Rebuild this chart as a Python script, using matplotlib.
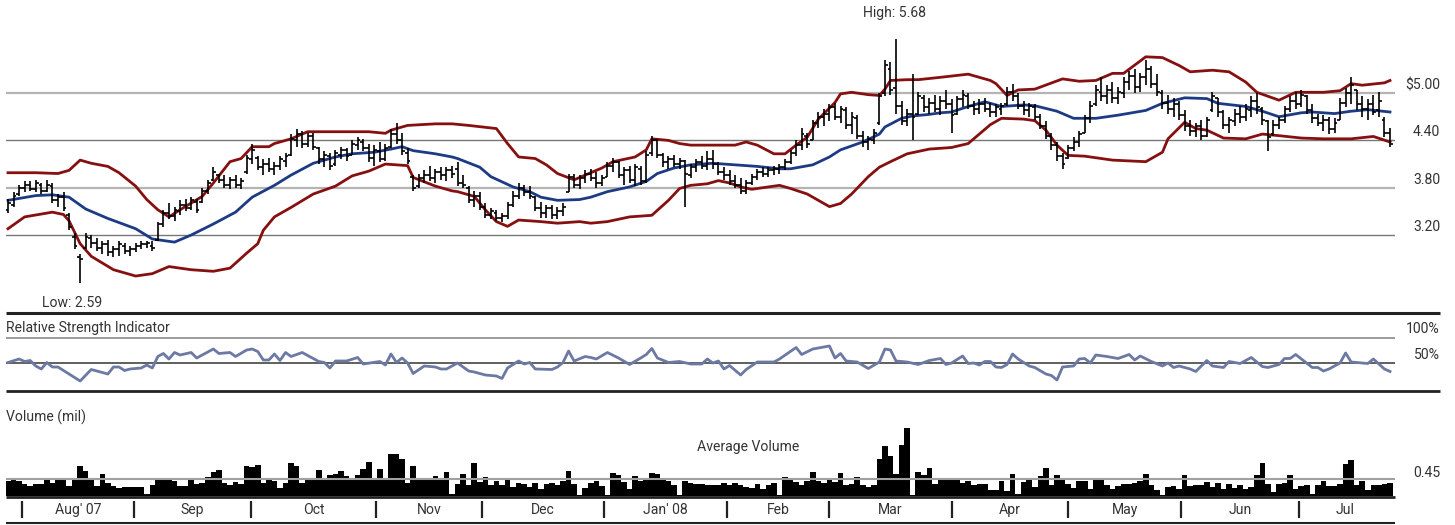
import matplotlib
matplotlib.use("Agg")
import matplotlib.pyplot as plt
from matplotlib.lines import Line2D
from matplotlib import font_manager
import numpy as np

names = {f.name for f in font_manager.fontManager.ttflist}
if 'Liberation Sans Narrow' in names:
    plt.rcParams['font.family'] = ['Liberation Sans Narrow', 'DejaVu Sans']
    TARGET_W = 157.0
else:
    plt.rcParams['font.family'] = ['Roboto', 'Liberation Sans', 'DejaVu Sans']
    TARGET_W = 164.0

# ---------------- data (trading-day index 0 .. 249) ----------------
highs = [3.66,3.74,3.84,3.88,3.88,3.90,3.86,3.90,3.86,3.72,3.74,3.48,3.22,2.96,3.22,3.20,3.16,3.12,3.14,3.06,
         3.12,3.10,3.06,3.10,3.12,3.12,3.12,3.36,3.52,3.60,3.56,3.64,3.66,3.68,3.66,3.80,3.90,4.06,3.98,3.96,
         3.94,3.96,3.92,4.22,4.36,4.20,4.16,4.18,4.12,4.20,4.24,4.48,4.54,4.52,4.50,4.50,4.32,4.26,4.24,4.28,
         4.32,4.30,4.40,4.44,4.42,4.36,4.34,4.38,4.36,4.54,4.62,4.50,4.30,3.96,3.98,4.02,4.08,4.04,4.06,4.06,
         4.08,4.12,3.96,3.82,3.76,3.74,3.60,3.54,3.52,3.48,3.62,3.76,3.86,3.84,3.82,3.70,3.62,3.58,3.58,3.56,
         3.60,3.98,3.98,3.96,4.02,4.04,4.00,3.96,4.12,4.18,4.14,4.06,4.08,4.10,4.08,4.26,4.45,4.42,4.24,4.20,
         4.22,4.18,4.15,4.10,4.16,4.20,4.26,4.28,4.12,4.06,4.02,3.96,3.92,3.90,3.98,4.04,4.06,4.06,4.08,4.10,
         4.16,4.28,4.40,4.56,4.50,4.66,4.76,4.80,4.86,4.88,4.84,4.82,4.76,4.72,4.52,4.46,4.54,5.00,5.42,5.40,
         5.68,4.90,4.80,5.24,5.02,4.98,4.94,4.98,4.96,5.04,4.92,4.96,5.04,5.00,4.90,4.92,4.94,4.88,4.86,4.88,
         5.08,5.12,5.00,4.90,4.88,4.86,4.74,4.64,4.50,4.38,4.24,4.34,4.44,4.52,4.72,4.90,5.10,5.20,5.10,5.14,
         5.08,5.20,5.28,5.30,5.26,5.42,5.34,5.24,5.04,4.98,4.94,4.90,4.78,4.66,4.62,4.66,4.70,5.02,4.94,4.78,
         4.70,4.80,4.84,4.86,4.96,5.00,4.82,4.66,4.66,4.70,4.84,4.96,5.02,5.04,4.98,4.86,4.74,4.72,4.70,4.68,
         4.94,5.06,5.20,5.04,4.96,4.92,4.98,5.02,4.70,4.56]
lows = [3.48,3.56,3.70,3.74,3.76,3.74,3.72,3.74,3.60,3.56,3.50,3.26,3.02,2.59,3.02,3.04,3.00,2.96,2.94,2.92,
        2.94,2.96,2.94,2.98,3.02,3.04,3.00,3.12,3.30,3.40,3.38,3.46,3.50,3.52,3.48,3.60,3.72,3.88,3.86,3.80,
        3.78,3.80,3.78,3.98,4.10,4.02,3.96,4.00,3.96,4.02,4.06,4.20,4.32,4.30,4.32,4.28,4.10,4.06,4.02,4.08,
        4.16,4.14,4.22,4.28,4.26,4.12,4.08,4.12,4.14,4.30,4.36,4.22,4.10,3.76,3.80,3.86,3.88,3.86,3.90,3.88,
        3.92,3.82,3.80,3.60,3.56,3.52,3.42,3.40,3.38,3.36,3.40,3.56,3.66,3.70,3.66,3.50,3.42,3.42,3.40,3.40,
        3.44,3.74,3.80,3.78,3.86,3.88,3.80,3.82,3.94,4.00,3.92,3.84,3.86,3.82,3.84,3.86,4.20,4.18,4.06,4.04,
        4.06,4.04,3.55,3.92,4.00,4.04,4.02,4.04,3.96,3.90,3.84,3.80,3.72,3.72,3.84,3.90,3.94,3.94,3.96,3.98,
        4.02,4.10,4.20,4.28,4.30,4.40,4.56,4.58,4.64,4.66,4.62,4.54,4.48,4.42,4.32,4.28,4.36,4.60,4.96,4.98,
        4.74,4.60,4.58,4.40,4.72,4.76,4.74,4.76,4.72,4.80,4.50,4.72,4.82,4.80,4.72,4.74,4.76,4.70,4.70,4.72,
        4.84,4.90,4.80,4.72,4.70,4.66,4.54,4.42,4.28,4.14,4.04,4.16,4.26,4.32,4.50,4.62,4.84,4.90,4.86,4.88,
        4.86,4.94,5.04,5.00,5.02,5.10,5.06,4.96,4.80,4.74,4.70,4.66,4.52,4.46,4.44,4.40,4.44,4.76,4.70,4.54,
        4.50,4.58,4.62,4.64,4.70,4.74,4.60,4.27,4.46,4.54,4.62,4.76,4.80,4.82,4.74,4.62,4.58,4.52,4.48,4.50,
        4.66,4.82,4.86,4.78,4.70,4.66,4.72,4.70,4.44,4.32]
opens = [3.52,3.58,3.72,3.80,3.84,3.78,3.84,3.76,3.82,3.64,3.68,3.46,3.18,2.92,3.04,3.16,3.10,3.04,3.08,2.98,
         3.02,3.06,3.00,3.02,3.06,3.08,3.06,3.14,3.34,3.48,3.44,3.50,3.58,3.54,3.62,3.62,3.76,3.90,3.96,3.90,
         3.84,3.90,3.84,4.00,4.16,4.18,4.06,4.10,4.04,4.08,4.14,4.22,4.40,4.48,4.36,4.46,4.30,4.16,4.20,4.10,
         4.22,4.28,4.22,4.34,4.38,4.30,4.18,4.26,4.16,4.32,4.48,4.40,4.24,3.94,3.82,3.92,3.96,3.92,4.00,3.96,
         4.02,4.04,3.86,3.80,3.64,3.70,3.56,3.46,3.48,3.42,3.44,3.58,3.70,3.80,3.74,3.68,3.54,3.48,3.54,3.46,
         3.50,3.74,3.94,3.84,3.92,3.98,3.92,3.86,3.94,4.08,4.12,3.96,4.02,3.90,4.04,3.88,4.24,4.40,4.22,4.12,
         4.16,4.10,4.14,3.96,4.06,4.12,4.08,4.16,4.10,4.00,3.96,3.88,3.84,3.76,3.86,3.94,4.00,3.98,4.02,4.04,
         4.06,4.12,4.24,4.34,4.46,4.40,4.62,4.70,4.74,4.82,4.70,4.78,4.60,4.68,4.46,4.38,4.40,4.62,5.00,5.30,
         5.06,4.84,4.64,4.74,4.74,4.94,4.82,4.88,4.80,4.90,4.86,4.74,4.92,4.96,4.84,4.80,4.86,4.80,4.76,4.80,
         4.86,5.02,4.96,4.84,4.78,4.82,4.70,4.58,4.46,4.34,4.20,4.18,4.30,4.38,4.50,4.68,4.86,5.02,4.96,5.04,
         4.94,5.00,5.14,5.22,5.08,5.20,5.30,5.12,5.00,4.88,4.80,4.86,4.72,4.58,4.52,4.58,4.46,4.78,4.94,4.76,
         4.60,4.64,4.74,4.70,4.78,4.90,4.80,4.64,4.48,4.60,4.66,4.80,4.90,4.86,4.96,4.78,4.68,4.62,4.66,4.54,
         4.66,4.88,5.00,5.04,4.86,4.80,4.86,4.78,4.66,4.50]
closes = [3.60,3.70,3.80,3.84,3.78,3.86,3.76,3.84,3.64,3.68,3.54,3.30,3.06,2.90,3.18,3.10,3.04,3.08,2.98,3.02,
          3.08,3.00,3.02,3.06,3.08,3.10,3.04,3.34,3.48,3.44,3.52,3.58,3.54,3.64,3.52,3.76,3.86,4.00,3.90,3.84,
          3.90,3.84,3.88,4.18,4.28,4.06,4.10,4.04,4.08,4.16,4.20,4.42,4.48,4.36,4.46,4.32,4.16,4.22,4.08,4.24,
          4.28,4.20,4.36,4.40,4.30,4.18,4.28,4.16,4.30,4.48,4.40,4.26,4.14,3.80,3.92,3.96,3.92,4.00,3.96,4.02,
          3.98,3.86,3.84,3.64,3.70,3.56,3.46,3.50,3.42,3.44,3.58,3.70,3.80,3.74,3.70,3.54,3.48,3.54,3.46,3.50,
          3.56,3.94,3.84,3.92,3.98,3.92,3.86,3.92,4.08,4.12,3.96,4.02,3.90,4.06,3.88,4.22,4.40,4.22,4.12,4.16,
          4.10,4.14,3.98,4.06,4.12,4.08,4.16,4.10,4.00,3.96,3.88,3.84,3.76,3.86,3.94,4.00,3.98,4.02,4.04,4.06,
          4.12,4.24,4.34,4.48,4.36,4.62,4.70,4.74,4.82,4.70,4.80,4.60,4.70,4.46,4.38,4.42,4.50,4.96,5.36,5.04,
          4.84,4.64,4.74,4.70,4.96,4.82,4.88,4.80,4.90,4.86,4.72,4.92,4.98,4.84,4.80,4.86,4.80,4.76,4.82,4.84,
          5.02,4.96,4.84,4.78,4.84,4.70,4.58,4.46,4.34,4.20,4.10,4.30,4.38,4.48,4.68,4.84,5.04,4.96,5.04,4.94,
          5.02,5.14,5.22,5.08,5.20,5.30,5.12,5.02,4.88,4.80,4.86,4.72,4.58,4.52,4.58,4.46,4.66,4.96,4.76,4.60,
          4.66,4.74,4.70,4.80,4.90,4.82,4.66,4.44,4.60,4.66,4.80,4.90,4.86,4.98,4.78,4.68,4.62,4.66,4.54,4.62,
          4.88,5.00,5.10,4.86,4.80,4.86,4.76,4.90,4.50,4.36]

upper_day = [0,5,9,11,13,15,18,20,23,25,27,29,31,35,37,40,42,44,47,48,51,54,59,65,68,69,72,77,80,83,88,90,92,95,
             97,99,102,104,107,109,113,115,116,119,121,123,131,133,135,138,140,142,144,146,149,150,152,155,157,
             158,159,162,164,168,173,177,178,180,182,185,190,193,196,199,201,205,208,211,213,217,220,223,225,
             229,232,237,240,242,244,248,249]
upper_val = [3.99,3.99,3.98,4.02,4.15,4.11,4.07,3.99,3.82,3.65,3.52,3.43,3.52,3.69,3.86,4.13,4.17,4.32,4.32,4.36,
             4.42,4.51,4.51,4.51,4.49,4.53,4.59,4.61,4.61,4.59,4.55,4.36,4.19,4.17,4.09,3.98,3.90,3.96,4.05,4.13,
             4.19,4.28,4.42,4.40,4.36,4.34,4.34,4.38,4.34,4.23,4.23,4.34,4.44,4.67,4.88,4.99,5.01,4.98,4.97,5.05,
             5.16,5.17,5.17,5.20,5.24,5.16,5.12,4.97,5.04,5.05,5.18,5.15,5.16,5.25,5.25,5.46,5.45,5.35,5.27,5.29,
             5.27,5.14,5.01,4.91,5.01,5.01,5.03,5.12,5.10,5.13,5.16]
ma_day = [0,5,8,11,14,18,23,26,30,33,37,41,44,48,51,55,59,62,66,69,71,73,77,80,81,85,87,91,94,96,99,103,105,108,
          112,115,117,120,123,127,131,135,139,141,145,148,150,154,157,158,161,163,166,168,170,173,176,179,183,
          185,189,192,196,200,205,208,212,216,218,223,226,229,233,235,239,242,245,249]
ma_val = [3.64,3.70,3.71,3.68,3.53,3.41,3.28,3.15,3.11,3.20,3.34,3.49,3.68,3.83,3.96,4.11,4.19,4.23,4.25,4.29,
          4.32,4.27,4.23,4.19,4.17,4.06,3.94,3.81,3.75,3.68,3.64,3.65,3.68,3.75,3.81,3.88,3.98,4.05,4.09,4.11,
          4.09,4.07,4.04,4.04,4.09,4.19,4.28,4.38,4.48,4.57,4.68,4.71,4.73,4.75,4.76,4.83,4.89,4.83,4.85,4.84,
          4.77,4.68,4.68,4.72,4.78,4.87,4.94,4.93,4.87,4.83,4.77,4.70,4.75,4.76,4.74,4.77,4.79,4.76]
lower_day = [0,3,8,10,11,13,15,19,23,26,29,33,37,40,43,45,46,48,51,55,59,62,65,68,72,73,77,80,81,84,86,88,90,92,
             96,99,103,105,108,112,116,119,121,123,126,128,130,132,134,137,139,141,144,146,148,150,152,155,157,
             159,162,166,170,173,174,177,179,183,185,187,189,191,194,199,205,208,209,212,214,216,219,223,226,
             229,233,237,242,246,249]
lower_val = [3.28,3.43,3.49,3.46,3.38,3.09,2.93,2.76,2.68,2.71,2.80,2.76,2.74,2.78,2.97,3.09,3.26,3.43,3.55,3.72,
             3.82,3.95,4.01,4.10,4.08,3.93,3.82,3.76,3.75,3.69,3.52,3.37,3.31,3.39,3.37,3.35,3.37,3.35,3.37,3.43,
             3.45,3.64,3.79,3.83,3.85,3.89,3.86,3.81,3.78,3.81,3.83,3.79,3.72,3.64,3.56,3.60,3.72,3.94,4.06,4.13,
             4.23,4.29,4.31,4.36,4.42,4.60,4.68,4.67,4.65,4.53,4.34,4.21,4.20,4.15,4.13,4.25,4.42,4.63,4.55,4.53,
             4.43,4.42,4.48,4.46,4.43,4.42,4.42,4.45,4.38]

rsi_day = [0,2,3,4,5,6,7,8,9,13,15,18,19,20,21,22,24,25,26,27,28,29,30,31,33,34,37,38,40,41,43,44,45,46,47,48,49,
           50,51,53,56,57,58,59,61,63,64,67,68,69,70,71,72,73,75,77,78,79,81,83,84,86,88,89,90,92,93,94,95,98,99,
           100,101,102,104,105,106,108,110,112,114,115,116,117,119,121,123,125,126,127,128,129,130,132,133,135,
           138,139,142,143,145,148,149,150,151,153,155,157,158,159,160,162,164,166,168,169,170,172,173,174,175,
           176,177,178,179,180,181,182,184,185,187,188,189,190,192,193,194,195,196,198,200,202,203,204,206,208,
           209,210,211,213,214,216,217,219,220,222,224,226,227,229,230,231,232,235,236,237,238,240,241,242,244,
           245,246,248,249]
rsi_val = [51,58,53,55,44,38,51,42,42,14,37,28,42,42,35,38,40,46,40,63,69,58,71,66,71,60,78,69,71,63,76,78,73,56,
           56,68,55,71,63,71,53,51,40,54,54,61,48,53,46,68,51,60,50,29,44,42,38,38,50,34,32,26,24,19,40,54,48,51,
           38,37,42,51,74,54,63,61,58,71,60,47,60,67,79,60,51,53,48,48,58,50,54,38,45,26,37,52,52,58,81,67,78,84,
           60,69,54,52,39,52,78,76,54,52,47,55,59,47,50,64,49,50,46,53,53,42,41,47,68,58,44,41,28,25,16,42,44,58,
           59,50,66,63,59,67,56,64,53,44,50,41,44,38,33,55,44,41,53,49,61,43,41,47,59,59,67,41,41,34,38,50,70,52,
           50,49,58,38,33]

volume = [0.41,0.45,0.40,0.32,0.26,0.32,0.32,0.45,0.36,0.45,0.47,0.28,0.45,0.82,0.68,0.45,0.28,0.59,0.36,0.28,
          0.23,0.25,0.25,0.25,0.24,0.05,0.30,0.47,0.47,0.45,0.40,0.26,0.28,0.45,0.32,0.36,0.52,0.66,0.71,0.36,
          0.29,0.38,0.32,0.82,0.78,0.84,0.36,0.50,0.41,0.23,0.36,0.91,0.82,0.36,0.50,0.50,0.71,0.45,0.56,0.59,
          0.68,0.54,0.50,0.56,0.73,0.93,0.50,0.73,0.45,1.14,1.15,1.00,0.36,0.82,0.45,0.45,0.45,0.55,0.45,0.65,
          0.05,0.32,0.61,0.29,0.91,0.38,0.52,0.29,0.41,0.29,0.45,0.25,0.35,0.34,0.25,0.35,0.20,0.34,0.35,0.29,
          0.41,0.67,0.32,0.03,0.23,0.35,0.40,0.26,0.03,0.63,0.56,0.38,0.20,0.54,0.41,0.50,0.64,0.61,0.47,0.41,
          0.29,0.03,0.41,0.35,0.33,0.34,0.30,0.29,0.30,0.35,0.29,0.35,0.30,0.25,0.22,0.32,0.20,0.29,0.35,0.03,
          0.52,0.45,0.38,0.29,0.41,0.65,0.41,0.35,0.45,0.38,0.63,0.29,0.32,0.52,0.29,0.25,0.29,1.02,1.35,1.08,
          0.61,1.38,1.85,0.03,0.65,0.56,0.75,0.34,0.50,0.45,0.45,0.45,0.36,0.41,0.31,0.32,0.32,0.17,0.17,0.40,
          0.14,0.61,0.06,0.37,0.45,0.25,0.54,0.75,0.29,0.56,0.47,0.34,0.22,0.41,0.41,0.20,0.47,0.50,0.29,0.20,
          0.26,0.34,0.34,0.36,0.41,0.61,0.31,0.15,0.02,0.25,0.27,0.20,0.56,0.26,0.29,0.29,0.38,0.25,0.35,0.20,
          0.34,0.22,0.31,0.20,0.25,0.56,0.91,0.32,0.11,0.32,0.35,0.56,0.20,0.26,0.29,0.06,0.29,0.41,0.27,0.27,
          0.34,0.86,0.97,0.29,0.41,0.17,0.29,0.29,0.34,0.36]
avg_volume = 0.45

price_grid = [5.00, 4.40, 3.80, 3.20]
price_labels = ["$5.00", "4.40", "3.80", "3.20"]
month_bounds = [2.5, 22.7, 43.8, 66.3, 85.4, 107.4, 129.5, 147.9, 170.1, 191.0, 211.4, 232.6, 249.4]
month_labels = ["Aug' 07", "Sep", "Oct", "Nov", "Dec", "Jan' 08", "Feb", "Mar", "Apr", "May", "Jun", "Jul"]
high_day, high_val = 160, 5.68
low_day, low_val = 13, 2.59

# ---------------- figure ----------------
W, H = 1455, 525
fig = plt.figure(figsize=(W / 100, H / 100), dpi=100)
TXT = '#333333'

# font size chosen so the panel title has about the reference's width
_probe = fig.text(0, 0, "Relative Strength Indicator", fontsize=10)
_w = _probe.get_window_extent(renderer=fig.canvas.get_renderer()).width
_probe.remove()
FS = max(8.5, min(11.5, 10 * TARGET_W / _w))

def box(x0, y0, x1, y1):
    return [x0 / W, 1 - y1 / H, (x1 - x0) / W, (y1 - y0) / H]

XL = (-0.36, 249.9)
days = np.arange(len(closes))

def clean(ax):
    ax.set_xlim(*XL)
    for s in ax.spines.values():
        s.set_visible(False)
    ax.set_xticks([]); ax.set_yticks([])
    ax.patch.set_alpha(0)

def figline(x0, x1, y, lw, color='#222222'):
    fig.add_artist(Line2D([x0 / W, x1 / W], [1 - y / H, 1 - y / H], transform=fig.transFigure,
                          color=color, lw=lw, solid_capstyle='butt'))

pt = 0.72  # points per pixel

# price panel
axp = fig.add_axes(box(6, 30, 1395, 300))
clean(axp)
axp.set_ylim(2.376, 5.80)
for k, g in enumerate(price_grid):
    light = (k % 2 == 0)
    axp.axhline(g, color='#b4b4b4' if light else '#777777', lw=1.6 if light else 1.0, zorder=1)
    axp.annotate(price_labels[k], xy=(1, g), xycoords=('axes fraction', 'data'),
                 xytext=(45 * pt, 8 * pt), textcoords='offset points', ha='right', va='center',
                 fontsize=FS, color=TXT)
axp.plot(upper_day, upper_val, color='#861010', lw=2.0, zorder=2)
axp.plot(lower_day, lower_val, color='#861010', lw=2.0, zorder=2)
axp.plot(ma_day, ma_val, color='#1d3b85', lw=2.0, zorder=2)
axp.vlines(days, lows, highs, color='black', lw=1.2, zorder=3)
axp.hlines(opens, days - 0.5, days, color='black', lw=1.2, zorder=3)
axp.hlines(closes, days, days + 0.5, color='black', lw=1.2, zorder=3)
axp.annotate(f"High: {high_val:.2f}", xy=(high_day, high_val), xytext=(-2 * pt, 26 * pt),
             textcoords='offset points', ha='center', va='center', fontsize=FS, color=TXT,
             annotation_clip=False)
axp.annotate(f"Low: {low_val:.2f}", xy=(low_day, low_val), xytext=(-8 * pt, -20 * pt),
             textcoords='offset points', ha='center', va='center', fontsize=FS, color=TXT,
             annotation_clip=False)

figline(6, 1440, 313, 2.2)

# RSI panel
axr = fig.add_axes(box(6, 336, 1395, 392))
clean(axr)
axr.set_ylim(-8, 104)
axr.axhline(100, color='#8a8a8a', lw=1.2)
axr.axhline(50, color='#444444', lw=1.2)
axr.plot(rsi_day, rsi_val, color='#6b79a3', lw=2.0)
axr.annotate("100%", xy=(1, 100), xycoords=('axes fraction', 'data'), xytext=(45 * pt, 9 * pt),
             textcoords='offset points', ha='right', va='center', fontsize=FS, color=TXT)
axr.annotate("50%", xy=(1, 50), xycoords=('axes fraction', 'data'), xytext=(45 * pt, 8 * pt),
             textcoords='offset points', ha='right', va='center', fontsize=FS, color=TXT)
fig.text(6 / W, 1 - 328 / H, "Relative Strength Indicator", ha='left', va='center', fontsize=FS, color=TXT)
figline(6, 1440, 391, 2.0)

# volume panel
axv = fig.add_axes(box(6, 405, 1395, 496))
clean(axv)
axv.set_ylim(0, 2.48)
axv.bar(days, volume, width=1.0, color='black', linewidth=0, zorder=2)
axv.axhline(avg_volume, color='#a0a0a0', lw=1.5, zorder=3)
axv.annotate(f"{avg_volume:.2f}", xy=(1, avg_volume), xycoords=('axes fraction', 'data'),
             xytext=(45 * pt, 6 * pt), textcoords='offset points', ha='right', va='center',
             fontsize=FS, color=TXT)
fig.text(6 / W, 1 - 417 / H, "Volume (mil)", ha='left', va='center', fontsize=FS, color=TXT)
fig.text(748 / W, 1 - 447 / H, "Average Volume", ha='center', va='center', fontsize=FS, color=TXT)
figline(6, 1395, 496.5, 2.0)

# month axis strip
axm = fig.add_axes(box(6, 497, 1395, 523))
clean(axm)
axm.set_ylim(0, 1)
axm.vlines(month_bounds[:-1], 0.18, 0.85, color='#222222', lw=1.6)
for k, lab in enumerate(month_labels):
    axm.text((month_bounds[k] + month_bounds[k + 1]) / 2, 0.5, lab, ha='center', va='center',
             fontsize=FS, color=TXT)
figline(6, 1395, 522.5, 1.5)

fig.savefig("out.png", dpi=100)
